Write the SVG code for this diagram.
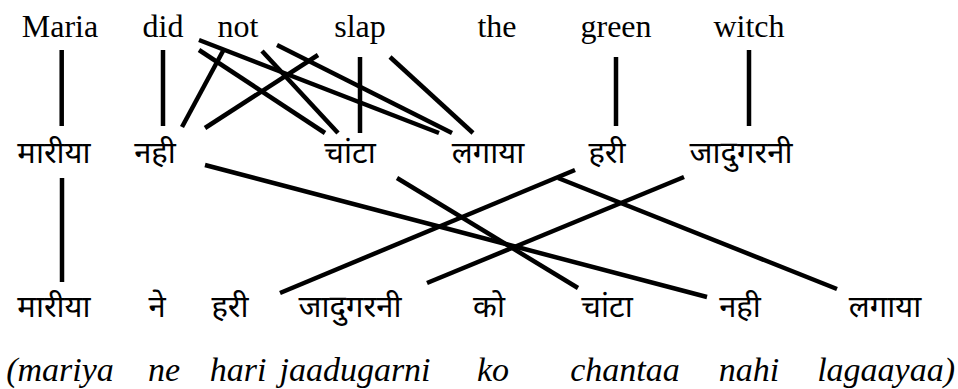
<svg xmlns="http://www.w3.org/2000/svg" width="958" height="389" viewBox="0 0 958 389">
<rect width="958" height="389" fill="#fff"/>
<g id="top-row">
<g id="t-maria"><text x="60" y="37" text-anchor="middle" style="font-family:'Liberation Serif';font-size:32px">Maria</text></g>
<g id="t-did"><text x="163" y="37" text-anchor="middle" style="font-family:'Liberation Serif';font-size:32px">did</text></g>
<g id="t-not"><text x="238" y="37" text-anchor="middle" style="font-family:'Liberation Serif';font-size:32px">not</text></g>
<g id="t-slap"><text x="360" y="37" text-anchor="middle" style="font-family:'Liberation Serif';font-size:32px">slap</text></g>
<g id="t-the"><text x="497" y="37" text-anchor="middle" style="font-family:'Liberation Serif';font-size:32px">the</text></g>
<g id="t-green"><text x="616" y="37" text-anchor="middle" style="font-family:'Liberation Serif';font-size:32px">green</text></g>
<g id="t-witch"><text x="749" y="37" text-anchor="middle" style="font-family:'Liberation Serif';font-size:32px">witch</text></g>
</g>
<g id="translit-row">
<text x="60" y="381" text-anchor="middle" style="font-family:'Liberation Serif';font-style:italic;font-size:34px">(mariya</text>
<text x="164" y="381" text-anchor="middle" style="font-family:'Liberation Serif';font-style:italic;font-size:34px">ne</text>
<text x="238" y="381" text-anchor="middle" style="font-family:'Liberation Serif';font-style:italic;font-size:34px">hari</text>
<text x="355" y="381" text-anchor="middle" style="font-family:'Liberation Serif';font-style:italic;font-size:34px">jaadugarni</text>
<text x="493" y="381" text-anchor="middle" style="font-family:'Liberation Serif';font-style:italic;font-size:34px">ko</text>
<text x="625" y="381" text-anchor="middle" style="font-family:'Liberation Serif';font-style:italic;font-size:34px">chantaa</text>
<text x="749" y="381" text-anchor="middle" style="font-family:'Liberation Serif';font-style:italic;font-size:34px">nahi</text>
<text x="955" y="381" text-anchor="end" style="font-family:'Liberation Serif';font-style:italic;font-size:34px">lagaayaa)</text>
</g>
<g id="mid-row" text-anchor="middle" font-family="Noto Sans Devanagari" font-size="31">
<g id="m-mariya"><text x="54" y="163">मारीया</text></g>
<g id="m-nahi"><text x="155" y="163">नही</text></g>
<g id="m-chantaa"><text x="350" y="163">चांटा</text></g>
<g id="m-lagaaya"><text x="488" y="163">लगाया</text></g>
<g id="m-hari"><text x="607" y="163">हरी</text></g>
<g id="m-jaadugarni"><text x="741" y="163">जादुगरनी</text></g>
</g>
<g id="bottom-row" text-anchor="middle" font-family="Noto Sans Devanagari" font-size="31">
<g id="b-mariya"><text x="54" y="317">मारीया</text></g>
<g id="b-ne"><text x="157" y="317">ने</text></g>
<g id="b-hari"><text x="230" y="317">हरी</text></g>
<g id="b-jaadugarni"><text x="350" y="317">जादुगरनी</text></g>
<g id="b-ko"><text x="489" y="317">को</text></g>
<g id="b-chantaa"><text x="607" y="317">चांटा</text></g>
<g id="b-nahi"><text x="740" y="317">नही</text></g>
<g id="b-lagaaya"><text x="885" y="317">लगाया</text></g>
</g>
<g id="connectors" stroke="#000" stroke-width="4.5">
<line x1="61.7" y1="50" x2="61.7" y2="126"/>
<line x1="163" y1="50" x2="163" y2="126"/>
<line x1="182" y1="127" x2="223" y2="51"/>
<line x1="205" y1="128" x2="318" y2="55"/>
<line x1="199" y1="50" x2="325" y2="133"/>
<line x1="262" y1="51" x2="338" y2="133"/>
<line x1="199" y1="40" x2="439" y2="133"/>
<line x1="277" y1="45" x2="452" y2="133"/>
<line x1="360" y1="57" x2="360" y2="133"/>
<line x1="390" y1="57" x2="473" y2="133"/>
<line x1="616" y1="57" x2="616" y2="126"/>
<line x1="749" y1="50" x2="749" y2="126"/>
<line x1="62" y1="178" x2="62" y2="282"/>
<line x1="205" y1="165" x2="707" y2="297"/>
<line x1="397" y1="178" x2="578" y2="288"/>
<line x1="280" y1="293" x2="575" y2="170"/>
<line x1="427" y1="283" x2="684" y2="177"/>
<line x1="558" y1="178" x2="837" y2="289"/>
</g>
</svg>
